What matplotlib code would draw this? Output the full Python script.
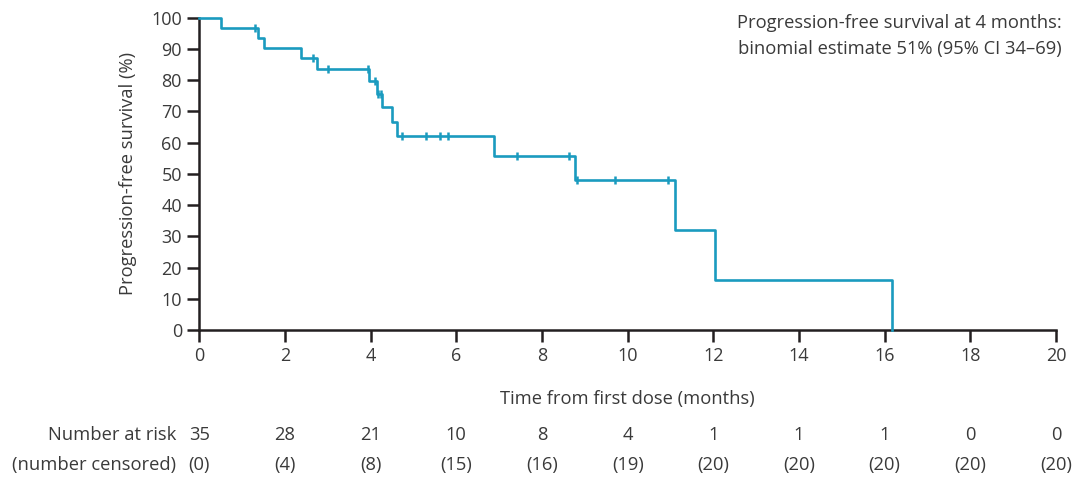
import matplotlib.pyplot as plt
import numpy as np

plt.rcParams["font.family"] = ["Open Sans", "DejaVu Sans"]

# step curve (months, %)
event_times = [0, 0.50, 1.38, 1.51, 2.37, 2.76, 3.96, 4.15, 4.27, 4.49, 4.62, 6.88, 8.77, 11.11, 12.04, 16.17]
survival = [100, 96.6, 93.4, 90.4, 87.0, 83.5, 79.7, 75.6, 71.5, 66.7, 62.2, 55.8, 48.0, 32.0, 16.0, 0]
censor_times = [1.30, 2.65, 3.01, 3.93, 4.10, 4.18, 4.24, 4.73, 5.29, 5.62, 5.81, 7.41, 8.62, 8.81, 9.71, 10.94]

risk_times = [0, 2, 4, 6, 8, 10, 12, 14, 16, 18, 20]
at_risk = [35, 28, 21, 10, 8, 4, 1, 1, 1, 0, 0]
censored = [0, 4, 8, 15, 16, 19, 20, 20, 20, 20, 20]

curve_color = "#1a9bbf"
text_color = "#3a3a3a"
axis_color = "#231f20"
fs = 13.2

fig = plt.figure(figsize=(10.8, 4.87), dpi=100)
ax = fig.add_axes([0.1845, 0.3224, 0.7933, 0.6413])

ax.step(event_times, survival, where="post", color=curve_color, linewidth=1.9, clip_on=False, zorder=3)

idx = np.searchsorted(event_times, censor_times, side="right") - 1
censor_levels = np.array(survival)[idx]
ax.plot(censor_times, censor_levels, linestyle="none", marker="|", markersize=6,
        markeredgewidth=1.8, color=curve_color, zorder=4)

ax.set_xlim(0, 20)
ax.set_ylim(0, 100)
ax.set_xticks(range(0, 21, 2))
ax.set_yticks(range(0, 101, 10))
for s in ["top", "right"]:
    ax.spines[s].set_visible(False)
for s in ["left", "bottom"]:
    ax.spines[s].set_linewidth(1.8)
    ax.spines[s].set_color(axis_color)
ax.tick_params(direction="out", length=8.5, width=1.8, color=axis_color,
               labelsize=13, labelcolor=text_color, pad=4)

ax.set_xlabel("Time from first dose (months)", fontsize=fs, color=text_color, labelpad=18)
ax.set_ylabel("Progression-free survival (%)", fontsize=fs, color=text_color, labelpad=10)

fig.text(0.983, 1 - 36 / 487, "Progression-free survival at 4 months:\nbinomial estimate 51% (95% CI 34\u201369)",
         ha="right", va="center", fontsize=fs, color=text_color, linespacing=1.55)

# number at risk table
trans = ax.get_xaxis_transform()
fig.text(0.163, 1 - 435 / 487, "Number at risk", ha="right", va="center", fontsize=fs, color=text_color)
fig.text(0.163, 1 - 465 / 487, "(number censored)", ha="right", va="center", fontsize=fs, color=text_color)
y_risk = (1 - 435 / 487 - 0.3224) / 0.6413
y_cens = (1 - 465 / 487 - 0.3224) / 0.6413
for t, n, c in zip(risk_times, at_risk, censored):
    ax.text(t, y_risk, str(n), transform=trans, ha="center", va="center",
            fontsize=fs, color=text_color, clip_on=False)
    ax.text(t, y_cens, f"({c})", transform=trans, ha="center", va="center",
            fontsize=fs, color=text_color, clip_on=False)

plt.savefig("out.png", dpi=100)
